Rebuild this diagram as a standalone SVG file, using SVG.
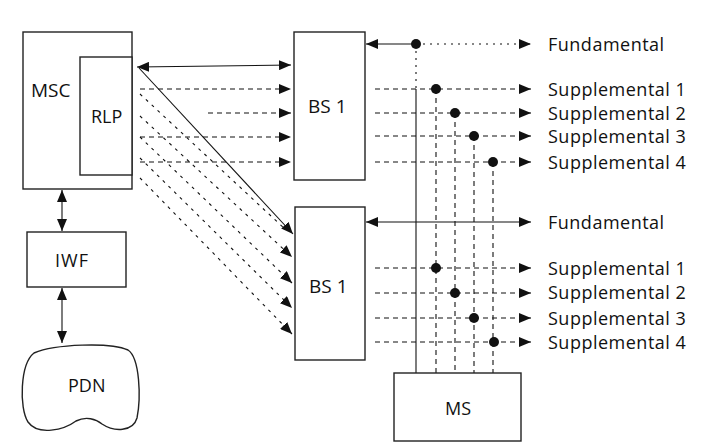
<svg xmlns="http://www.w3.org/2000/svg" width="701" height="447" viewBox="0 0 701 447">
<style>
.box{fill:#fff;stroke:#222;stroke-width:1.4}
.lbl{font-family:"Open Sans","DejaVu Sans",sans-serif;font-size:18px;fill:#111}
.big{font-size:19px}
.side{letter-spacing:0.5px}
.c{stroke:#111;stroke-width:1.1;fill:none}
.d{stroke-dasharray:5,4}
.dt{stroke-dasharray:2,5}
.dot{fill:#111}
</style>
<defs>
<marker id="ah" viewBox="0 0 12 10" refX="12" refY="5" markerWidth="12" markerHeight="10" markerUnits="userSpaceOnUse" orient="auto-start-reverse">
<path d="M0,0 L12,5 L0,10 z" fill="#111"/>
</marker>
</defs>
<rect width="701" height="447" fill="#fff"/>

<g id="connectors">
<line class="c" x1="62" y1="190" x2="62" y2="231" marker-start="url(#ah)" marker-end="url(#ah)"/>
<line class="c" x1="62" y1="288" x2="62" y2="343" marker-start="url(#ah)" marker-end="url(#ah)"/>
<line class="c" x1="137" y1="67" x2="291" y2="65" marker-start="url(#ah)" marker-end="url(#ah)"/>
<line class="c d" x1="140" y1="89" x2="291" y2="89" marker-end="url(#ah)"/>
<line class="c d" x1="208" y1="113" x2="291" y2="113" marker-end="url(#ah)"/>
<line class="c d" x1="140" y1="137" x2="291" y2="137" marker-end="url(#ah)"/>
<line class="c d" x1="140" y1="162" x2="291" y2="162" marker-end="url(#ah)"/>
<line class="c" x1="139" y1="68" x2="293" y2="234" marker-end="url(#ah)"/>
<line class="c" x1="140" y1="94" x2="286" y2="230" stroke-dasharray="3,5"/>
<line class="c" x1="140" y1="116" x2="292" y2="257" stroke-dasharray="3,5" marker-end="url(#ah)"/>
<line class="c" x1="140" y1="137" x2="292" y2="283" stroke-dasharray="3,5" marker-end="url(#ah)"/>
<line class="c" x1="140" y1="158" x2="292" y2="308" stroke-dasharray="3,5" marker-end="url(#ah)"/>
<line class="c" x1="140" y1="178" x2="292" y2="334" stroke-dasharray="3,5" marker-end="url(#ah)"/>
<line class="c" x1="366" y1="44" x2="416" y2="44" marker-start="url(#ah)"/>
<line class="c dt" x1="416" y1="44" x2="531" y2="44" marker-end="url(#ah)"/>
<line class="c d" x1="375" y1="89" x2="531" y2="89" marker-end="url(#ah)"/>
<line class="c d" x1="375" y1="113" x2="531" y2="113" marker-end="url(#ah)"/>
<line class="c d" x1="375" y1="136" x2="531" y2="136" marker-end="url(#ah)"/>
<line class="c d" x1="375" y1="162" x2="531" y2="162" marker-end="url(#ah)"/>
<line class="c" x1="366" y1="222" x2="531" y2="222" marker-start="url(#ah)" marker-end="url(#ah)"/>
<line class="c d" x1="375" y1="268" x2="531" y2="268" marker-end="url(#ah)"/>
<line class="c d" x1="375" y1="293" x2="531" y2="293" marker-end="url(#ah)"/>
<line class="c d" x1="375" y1="318" x2="531" y2="318" marker-end="url(#ah)"/>
<line class="c d" x1="375" y1="342" x2="531" y2="342" marker-end="url(#ah)"/>
<line class="c dt" x1="416" y1="44" x2="416" y2="89"/>
<line class="c" x1="416" y1="89" x2="416" y2="373"/>
<line class="c d" x1="436" y1="89" x2="436" y2="373"/>
<line class="c d" x1="455" y1="113" x2="455" y2="373"/>
<line class="c d" x1="474" y1="136" x2="474" y2="373"/>
<line class="c d" x1="493" y1="162" x2="493" y2="373"/>
<circle class="dot" cx="416" cy="44" r="5"/>
<circle class="dot" cx="436" cy="89" r="5"/>
<circle class="dot" cx="455" cy="113" r="5"/>
<circle class="dot" cx="474" cy="136" r="5"/>
<circle class="dot" cx="493" cy="162" r="5"/>
<circle class="dot" cx="436" cy="268" r="5"/>
<circle class="dot" cx="455" cy="293" r="5"/>
<circle class="dot" cx="474" cy="318" r="5"/>
<circle class="dot" cx="494" cy="342" r="5"/>
</g>

<g id="msc">
<rect class="box" x="23" y="32" width="109" height="157"/>
<text class="lbl big" x="31" y="97">MSC</text>
</g>
<g id="rlp">
<rect class="box" x="80" y="57" width="52" height="118"/>
<text class="lbl" x="91" y="123">RLP</text>
</g>
<g id="iwf">
<rect class="box" x="27" y="232" width="99" height="55"/>
<text class="lbl" x="55" y="267" letter-spacing="1">IWF</text>
</g>
<g id="pdn">
<path class="box" d="M34,353 C55,344 110,342 128,350 C140,358 141,398 137,418 C133,432 114,432 102,424 C96,419 86,416 76,421 C64,430 38,436 28,422 C19,408 20,364 34,353 Z"/>
<text class="lbl" x="68" y="392">PDN</text>
</g>
<g id="bs1-top">
<rect class="box" x="294" y="32" width="71" height="148"/>
<text class="lbl big" x="308" y="113">BS 1</text>
</g>
<g id="bs1-bottom">
<rect class="box" x="295" y="207" width="70" height="153"/>
<text class="lbl big" x="309" y="293">BS 1</text>
</g>
<g id="ms">
<rect class="box" x="394" y="373" width="127" height="68"/>
<text class="lbl" x="445" y="415">MS</text>
</g>

<g id="labels">
<text class="lbl side" x="548" y="50.5">Fundamental</text>
<text class="lbl side" x="548" y="95.5">Supplemental 1</text>
<text class="lbl side" x="548" y="119.5">Supplemental 2</text>
<text class="lbl side" x="548" y="142.5">Supplemental 3</text>
<text class="lbl side" x="548" y="168.5">Supplemental 4</text>
<text class="lbl side" x="548" y="228.5">Fundamental</text>
<text class="lbl side" x="548" y="274.5">Supplemental 1</text>
<text class="lbl side" x="548" y="299">Supplemental 2</text>
<text class="lbl side" x="548" y="324.5">Supplemental 3</text>
<text class="lbl side" x="548" y="348.5">Supplemental 4</text>
</g>
</svg>
